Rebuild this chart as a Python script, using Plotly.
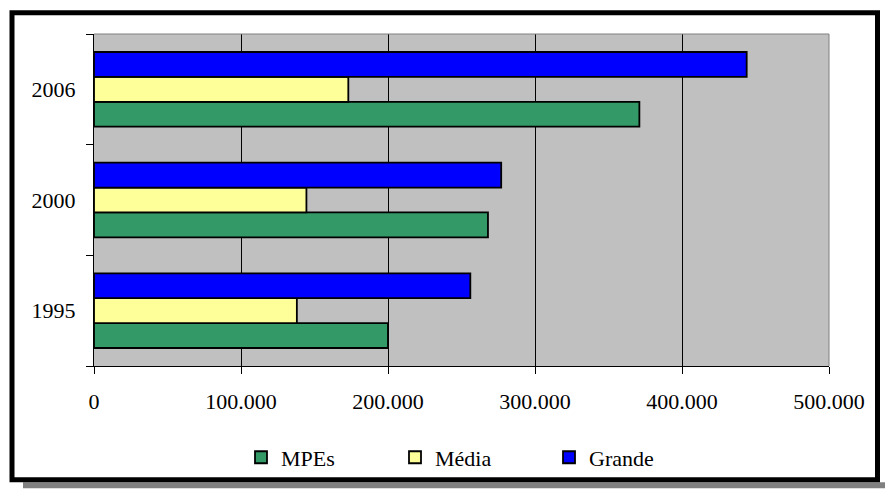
import plotly.graph_objects as go

# Categories and series (values in units)
anos = ["1995", "2000", "2006"]
mpes = [200000, 268000, 371000]
media = [138000, 144500, 173000]
grande = [256000, 277000, 444000]

series_names = ["MPEs", "Média", "Grande"]
series_colors = ["#339966", "#FFFF99", "#0000FF"]
x_ticks = [0, 100000, 200000, 300000, 400000, 500000]

W, H = 885, 491
ML, MR, MT, MB = 94, 56, 34, 123
PW, PH = W - ML - MR, H - MT - MB


def px_x(p):
    return (p - ML) / PW


def px_y(p):
    return (H - MB - p) / PH


fig = go.Figure()
for name, vals, color in zip(series_names, [mpes, media, grande], series_colors):
    fig.add_trace(go.Bar(
        y=anos, x=vals, name=name, orientation="h",
        marker=dict(color=color, line=dict(color="#000000", width=1.8)),
    ))

font = dict(family="Liberation Serif, Times New Roman, serif", size=22, color="#000000")

fig.update_layout(
    width=W, height=H, autosize=False,
    margin=dict(l=ML, r=MR, t=MT, b=MB, pad=0),
    paper_bgcolor="#FFFFFF", plot_bgcolor="#C0C0C0",
    barmode="group", bargap=0.325, bargroupgap=0,
    separators=",.",
    font=font,
    showlegend=True,
    legend=dict(
        orientation="h", x=px_x(241), xanchor="left", y=px_y(460), yanchor="middle",
        entrywidth=109, font=font, bgcolor="rgba(0,0,0,0)", traceorder="normal",
        itemclick=False,
    ),
    xaxis=dict(
        range=[0, 500000], tickvals=x_ticks, tickformat=",d",
        showgrid=True, gridcolor="#000000", gridwidth=1,
        zeroline=False, showline=True, linecolor="#000000", linewidth=1,
        ticks="outside", ticklen=7, tickcolor="#000000", tickwidth=1,
        ticklabelstandoff=9, fixedrange=True,
    ),
    yaxis=dict(
        type="category", categoryorder="array", categoryarray=anos,
        showgrid=False, zeroline=False, showline=True, linecolor="#000000", linewidth=1,
        ticks="outside", tickson="boundaries", ticklen=7, tickcolor="#000000", tickwidth=1,
        ticklabelstandoff=13, fixedrange=True,
    ),
    shapes=[
        # drop shadow under the frame
        dict(type="rect", xref="paper", yref="paper", layer="below",
             x0=px_x(23), x1=px_x(885), y0=px_y(491), y1=px_y(485),
             fillcolor="#808080", line=dict(width=0)),
        # outer frame
        dict(type="rect", xref="paper", yref="paper", layer="above",
             x0=px_x(12), x1=px_x(877.5), y0=px_y(482.5), y1=px_y(12.5),
             line=dict(color="#000000", width=5)),
        # plot area top and right edges
        dict(type="line", xref="paper", yref="paper", layer="above",
             x0=0, x1=1, y0=1, y1=1, line=dict(color="#808080", width=1)),
        dict(type="line", xref="paper", yref="paper", layer="above",
             x0=1, x1=1, y0=0, y1=1, line=dict(color="#808080", width=1)),
    ],
)

fig.write_html("out.html")
